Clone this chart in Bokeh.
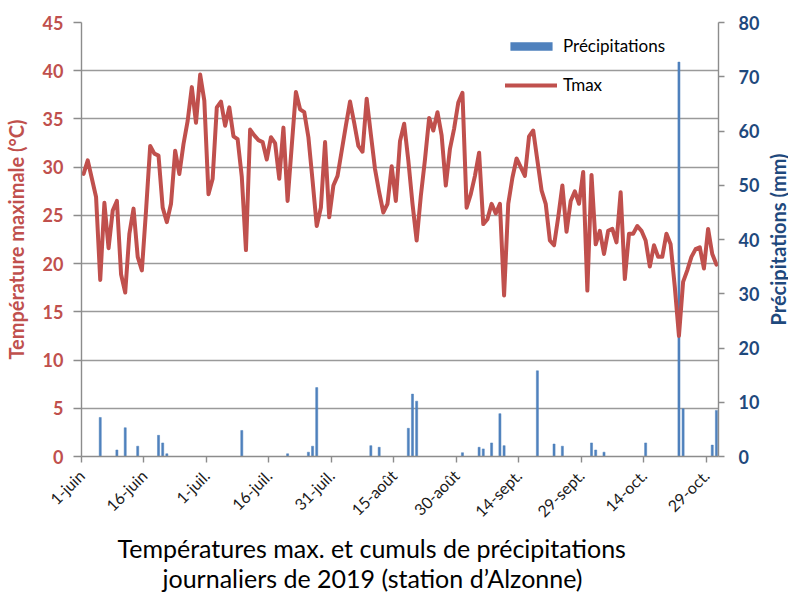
import math
from bokeh.plotting import figure
from bokeh.layouts import row
from bokeh.models import (Range1d, LinearAxis, FixedTicker, Legend, LegendItem,
                          Title, ColumnDataSource)
from bokeh.embed import file_html
from bokeh.resources import INLINE

# ---------------- data ----------------
# day index 0 = 1 June 2019 ... 152 = 31 October 2019
day_index = list(range(153))
tmax = [
    29.3, 30.7, 28.8, 26.9, 18.3, 26.3, 21.6, 25.5, 26.5, 18.9,
    17.0, 23.1, 25.7, 20.7, 19.3, 25.5, 32.2, 31.4, 31.2, 25.8,
    24.3, 26.2, 31.7, 29.3, 32.4, 34.8, 38.3, 34.6, 39.6, 36.9,
    27.2, 28.8, 36.2, 36.8, 34.3, 36.2, 33.2, 32.9, 29.0, 21.4,
    33.9, 33.3, 32.8, 32.6, 30.8, 33.1, 32.5, 28.8, 34.1, 26.5,
    32.2, 37.8, 36.0, 35.7, 33.1, 28.6, 23.9, 25.8, 32.6, 24.8,
    28.1, 29.1, 31.7, 34.3, 36.8, 34.6, 32.2, 31.6, 37.1, 33.4,
    29.8, 27.4, 25.3, 26.2, 30.1, 26.5, 32.7, 34.5, 30.7, 26.2,
    22.4, 27.0, 30.8, 35.1, 33.8, 35.7, 33.3, 28.1, 31.9, 34.0,
    36.7, 37.7, 25.8, 27.2, 29.1, 31.5, 24.1, 24.6, 26.2, 25.2,
    26.2, 16.7, 26.2, 28.9, 30.9, 30.0, 29.1, 33.2, 33.8, 30.7,
    27.6, 26.2, 22.4, 21.9, 24.8, 28.1, 23.3, 26.5, 27.5, 26.2,
    29.5, 17.2, 29.2, 22.0, 23.4, 21.0, 23.4, 23.6, 22.2, 27.4,
    18.4, 23.1, 23.1, 23.9, 23.4, 22.4, 19.7, 21.9, 20.7, 20.7,
    23.1, 22.0, 17.6, 12.5, 18.1, 19.3, 20.7, 21.5, 21.7, 19.5,
    23.6, 21.0, 19.9,
]
precip_days = [4, 8, 10, 13, 18, 19, 20, 38, 49, 54, 55, 56, 69, 71, 78, 79, 80,
               91, 95, 96, 98, 100, 101, 109, 113, 115, 122, 123, 125, 135,
               143, 144, 151, 152]
precip_mm = [7.2, 1.2, 5.3, 1.9, 3.9, 2.5, 0.5, 4.8, 0.5, 0.8, 1.9, 12.7, 2.0, 1.7,
             5.2, 11.5, 10.2, 0.7, 1.7, 1.4, 2.5, 7.9, 2.0, 15.8, 2.3, 1.9, 2.5,
             1.2, 0.8, 2.5, 72.7, 8.8, 2.1, 8.5]
tick_days = [0, 15, 30, 45, 60, 75, 90, 105, 120, 135, 150]
tick_labels = ["1-juin", "16-juin", "1-juil.", "16-juil.", "31-juil.", "15-août",
               "30-août", "14-sept.", "29-sept.", "14-oct.", "29-oct."]
temp_ticks = list(range(0, 50, 5))
precip_ticks = list(range(0, 90, 10))

title_lines = ["Températures max. et cumuls de précipitations",
               "journaliers de 2019 (station d\u2019Alzonne)"]
left_title = "Température maximale (°C)"
right_title = "Précipitations (mm)"

# ---------------- styles ----------------
FONT = "Lato"
RED = "#C0504D"
BLUE = "#4F81BD"
DARKBLUE = "#1F497D"
GRID = "#9A9A9A"
AXIS = "#8C8C8C"

line_src = ColumnDataSource(dict(x=[d + 0.5 for d in day_index], y=tmax))
bar_src = ColumnDataSource(dict(x=[d + 0.5 for d in precip_days], top=precip_mm))

p = figure(frame_width=637, frame_height=434, output_backend="svg",
           toolbar_location=None, x_range=Range1d(0, 153), y_range=Range1d(0, 45),
           min_border_left=80, min_border_right=41, min_border_top=22,
           min_border_bottom=110)
p.extra_y_ranges = {"prec": Range1d(0, 80)}
p.outline_line_color = None
p.background_fill_color = "white"
p.border_fill_color = "white"

# grid
p.xgrid.visible = False
p.ygrid.ticker = FixedTicker(ticks=temp_ticks)
p.ygrid.grid_line_color = GRID
p.ygrid.grid_line_width = 1.4

# bars (behind), line
bars = p.vbar(x="x", top="top", width=0.5, bottom=0, source=bar_src,
              fill_color=BLUE, line_color=BLUE, line_width=0.5, y_range_name="prec")
line = p.line(x="x", y="y", source=line_src, line_color=RED, line_width=4,
              line_join="round", line_cap="round")


def style_axis(ax):
    ax.axis_line_color = AXIS
    ax.axis_line_width = 1.4
    ax.major_tick_line_color = AXIS
    ax.major_tick_line_width = 1.4
    ax.major_tick_in = 0
    ax.minor_tick_line_color = None


# left axis
ya = p.yaxis[0]
style_axis(ya)
ya.ticker = FixedTicker(ticks=temp_ticks)
ya.major_tick_out = 8
ya.major_label_standoff = 10
ya.major_label_text_color = RED
ya.major_label_text_font = FONT
ya.major_label_text_font_style = "bold"
ya.major_label_text_font_size = "18px"
ya.axis_label = left_title
ya.axis_label_standoff = 12
ya.axis_label_text_color = RED
ya.axis_label_text_font = FONT
ya.axis_label_text_font_style = "bold"
ya.axis_label_text_font_size = "20px"

# right axis (ticks and numbers)
ra = LinearAxis(y_range_name="prec", ticker=FixedTicker(ticks=precip_ticks))
style_axis(ra)
ra.major_tick_out = 6
ra.major_label_standoff = 14
ra.major_label_text_color = DARKBLUE
ra.major_label_text_font = FONT
ra.major_label_text_font_style = "bold"
ra.major_label_text_font_size = "18px"
p.add_layout(ra, "right")

# bottom axis
xa = p.xaxis[0]
style_axis(xa)
xa.ticker = FixedTicker(ticks=tick_days)
xa.major_label_overrides = {d: lab for d, lab in zip(tick_days, tick_labels)}
xa.major_label_orientation = math.pi / 4
xa.major_tick_out = 6
xa.major_label_standoff = 10
xa.major_label_text_color = "#1A1A1A"
xa.major_label_text_font = FONT
xa.major_label_text_font_size = "16px"

# chart title at the bottom (two lines)
t1 = Title(text=title_lines[0], align="left", offset=36, vertical_align="bottom",
           text_font=FONT, text_font_size="25px", text_font_style="normal",
           text_color="#000000", standoff=0)
t2 = Title(text=title_lines[1], align="left", offset=81, vertical_align="top",
           text_font=FONT, text_font_size="25px", text_font_style="normal",
           text_color="#000000", standoff=0)
p.add_layout(t1, "below")
p.add_layout(t2, "below")

legend = Legend(items=[LegendItem(label="Précipitations", renderers=[bars]),
                       LegendItem(label="Tmax", renderers=[line])],
                location=(424, 361), orientation="vertical",
                border_line_color=None, background_fill_alpha=0,
                glyph_width=52, glyph_height=10, label_standoff=6,
                label_text_font=FONT, label_text_font_size="17px",
                label_text_color="#000000", spacing=18, padding=5, margin=0)
p.add_layout(legend)

# narrow companion figure carrying the right-hand axis title (reads bottom-to-top)
p2 = figure(frame_width=1, frame_height=434, output_backend="svg",
            toolbar_location=None, min_border_left=26, min_border_right=0,
            min_border_top=22, min_border_bottom=136,
            x_range=Range1d(0, 1), y_range=Range1d(0, 80))
p2.outline_line_color = None
p2.background_fill_color = "white"
p2.border_fill_color = "white"
p2.grid.visible = False
p2.xaxis.visible = False
ta = p2.yaxis[0]
ta.ticker = FixedTicker(ticks=[])
ta.axis_line_color = None
ta.major_tick_line_color = None
ta.minor_tick_line_color = None
ta.major_tick_out = 0
ta.major_tick_in = 0
ta.major_label_standoff = 0
ta.axis_label = right_title
ta.axis_label_standoff = 0
ta.axis_label_text_color = DARKBLUE
ta.axis_label_text_font = FONT
ta.axis_label_text_font_style = "bold"
ta.axis_label_text_font_size = "20px"

layout = row(p, p2)
open("out.html", "w").write(file_html(layout, INLINE))
